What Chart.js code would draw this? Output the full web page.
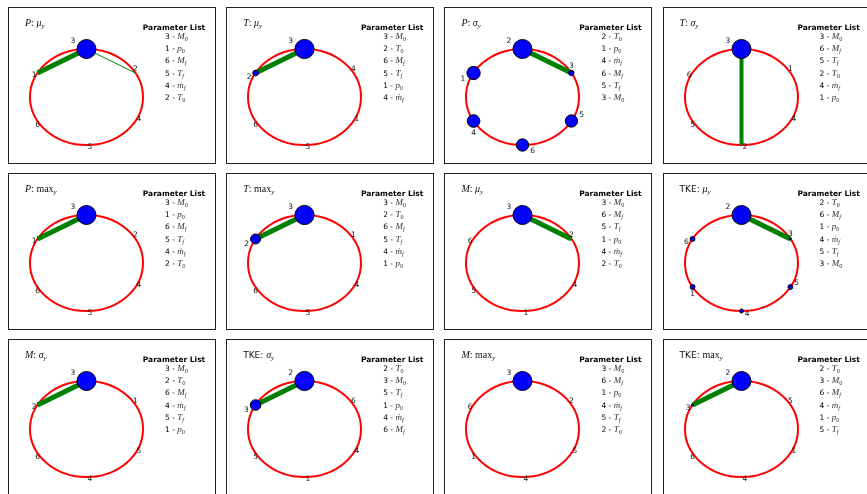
<!DOCTYPE html>
<html>
<head>
<meta charset="utf-8">
<script src="https://cdn.jsdelivr.net/npm/chart.js@4.4.1/dist/chart.umd.min.js"></script>
<style>
  body { margin: 0; background: #fff; width: 867px; height: 494px; overflow: hidden; position: relative; }
  .panel { position: absolute; width: 206px; height: 155px; border: 1px solid #222; background: #fff; }
  .panel canvas { position: absolute; left: 0; top: 0; }
  .ptitle { position: absolute; left: 16px; top: 8px; font: 10px "Liberation Serif", serif; line-height: 14px; white-space: nowrap; color: #111; }
  .sans { font-family: "DejaVu Sans", sans-serif; font-size: 9px; }
  .lhead { position: absolute; left: 115px; width: 100px; top: 13.7px; text-align: center; font: bold 7.5px "DejaVu Sans", sans-serif; line-height: 12px; }
  .litem { position: absolute; left: 156px; font: 7.5px "DejaVu Sans", sans-serif; line-height: 12px; white-space: nowrap; }
  .m { font-family: "Liberation Serif", serif; font-style: italic; font-size: 9px; color: #333; }
  sub { font-size: 70%; vertical-align: -0.3em; line-height: 0; }
  sub.up { font-style: normal; }
</style>
</head>
<body>
<script>
// parameter ids 1..6
const paramSymbols = ['p', 'T', 'M', 'ṁ', 'T', 'M'];
const paramSubs = ['0', '0', '0', 'f', 'f', 'f'];

const panelVars = ['P', 'T', 'P', 'T', 'P', 'T', 'M', 'TKE', 'M', 'TKE', 'M', 'TKE'];
const panelStats = ['mu', 'mu', 'sigma', 'sigma', 'max', 'max', 'mu', 'mu', 'sigma', 'sigma', 'max', 'max'];

// node order around the ring (first one sits on top), same as the parameter list
const nodeOrders = [
  [3, 1, 6, 5, 4, 2],
  [3, 2, 6, 5, 1, 4],
  [2, 1, 4, 6, 5, 3],
  [3, 6, 5, 2, 4, 1],
  [3, 1, 6, 5, 4, 2],
  [3, 2, 6, 5, 4, 1],
  [3, 6, 5, 1, 4, 2],
  [2, 6, 1, 4, 5, 3],
  [3, 2, 6, 4, 5, 1],
  [2, 3, 5, 1, 4, 6],
  [3, 6, 1, 4, 5, 2],
  [2, 3, 6, 4, 1, 5]
];

// node weight per parameter id (1..6)
const nodeWeights = [
  [0, 0, 0.9, 0, 0, 0],
  [0, 0.08, 0.92, 0, 0, 0],
  [0.44, 0.9, 0.07, 0.4, 0.38, 0.38],
  [0, 0, 0.9, 0, 0, 0],
  [0, 0, 0.9, 0, 0, 0],
  [0, 0.25, 0.92, 0, 0, 0],
  [0, 0, 0.9, 0, 0, 0],
  [0.06, 0.9, 0.01, 0.04, 0.06, 0.06],
  [0, 0, 0.9, 0, 0, 0],
  [0, 0.92, 0.28, 0, 0, 0],
  [0, 0, 0.9, 0, 0, 0],
  [0, 0.9, 0.01, 0, 0, 0]
];

// edges: [from, to, weight]
const edgeLists = [
  [[3, 1, 5], [3, 2, 1]],
  [[3, 2, 5]],
  [[2, 3, 5]],
  [[3, 2, 4]],
  [[3, 1, 5]],
  [[3, 2, 5]],
  [[3, 2, 5]],
  [[2, 3, 5]],
  [[3, 2, 5]],
  [[2, 3, 5]],
  [],
  [[2, 3, 5]]
];

const W = 206, H = 155;
const CX = 77.5, CY = 89, RX = 56.5, RY = 48;

function mathSym(id) {
  const s = paramSubs[id - 1];
  const subHtml = s === '0' ? '<sub class="up">0</sub>' : '<sub>' + s + '</sub>';
  return '<span class="m">' + paramSymbols[id - 1] + subHtml + '</span>';
}

function titleHtml(v, st) {
  let head = v === 'TKE' ? '<span class="sans">TKE: </span>' : '<i>' + v + '</i>: ';
  let tail;
  if (st === 'mu') tail = '<i>μ</i><sub><i>y</i></sub>';
  else if (st === 'sigma') tail = '<i>σ</i><sub><i>y</i></sub>';
  else tail = 'max<sub><i>y</i></sub>';
  return head + tail;
}

function angleOf(i) { return Math.PI / 2 + i * Math.PI / 3; }
function posOf(order, id) {
  const a = angleOf(order.indexOf(id));
  return { x: Math.cos(a), y: Math.sin(a) };
}

const ringPlugin = {
  id: 'ring',
  beforeDatasetsDraw(chart) {
    const { x, y } = chart.scales;
    const cx = x.getPixelForValue(0), cy = y.getPixelForValue(0);
    const rx = x.getPixelForValue(1) - cx, ry = cy - y.getPixelForValue(1);
    const ctx = chart.ctx;
    ctx.save();
    ctx.beginPath();
    ctx.ellipse(cx, cy, rx, ry, 0, 0, Math.PI * 2);
    ctx.strokeStyle = '#ff0000';
    ctx.lineWidth = 2;
    ctx.stroke();
    ctx.restore();
  }
};

const labelPlugin = {
  id: 'nodeLabels',
  afterDatasetsDraw(chart) {
    const meta = chart.getDatasetMeta(0);
    const ds = chart.data.datasets[0];
    const ctx = chart.ctx;
    ctx.save();
    ctx.font = '7.5px "DejaVu Sans", sans-serif';
    ctx.fillStyle = '#111';
    ctx.textAlign = 'center';
    ctx.textBaseline = 'middle';
    meta.data.forEach((pt, i) => {
      const r = ds.pointRadius[i];
      const dir = angleOf(i) + Math.PI / 3;
      const mag = 4 + 1.25 * r;
      ctx.fillText(String(ds.ids[i]), pt.x + mag * Math.cos(dir), pt.y - mag * Math.sin(dir));
    });
    ctx.restore();
  }
};

for (let p = 0; p < 12; p++) {
  const col = p % 4, row = Math.floor(p / 4);
  const panel = document.createElement('div');
  panel.className = 'panel';
  panel.style.left = (8 + 218.2 * col) + 'px';
  panel.style.top = (7 + 166 * row) + 'px';
  document.body.appendChild(panel);

  const canvas = document.createElement('canvas');
  canvas.width = W; canvas.height = H;
  canvas.style.width = W + 'px'; canvas.style.height = H + 'px';
  panel.appendChild(canvas);

  const t = document.createElement('div');
  t.className = 'ptitle';
  t.innerHTML = titleHtml(panelVars[p], panelStats[p]);
  panel.appendChild(t);

  const lh = document.createElement('div');
  lh.className = 'lhead';
  lh.textContent = 'Parameter List';
  panel.appendChild(lh);

  const order = nodeOrders[p];
  order.forEach((id, i) => {
    const li = document.createElement('div');
    li.className = 'litem';
    li.style.top = (21.7 + 12.3 * i) + 'px';
    li.innerHTML = id + ' - ' + mathSym(id);
    panel.appendChild(li);
  });

  const nodes = {
    type: 'scatter',
    ids: order,
    data: order.map(id => posOf(order, id)),
    pointRadius: order.map(id => 10 * Math.sqrt(nodeWeights[p][id - 1])),
    pointBackgroundColor: '#0000ff',
    pointBorderColor: '#000000',
    pointBorderWidth: 1,
    showLine: false,
    order: 0
  };
  const edges = edgeLists[p].map(([a, b, w]) => ({
    type: 'line',
    data: [posOf(order, a), posOf(order, b)],
    borderColor: '#008000',
    borderWidth: w,
    borderCapStyle: 'butt',
    pointRadius: 0,
    fill: false,
    order: 1
  }));

  new Chart(canvas, {
    type: 'scatter',
    data: { datasets: [nodes, ...edges] },
    options: {
      responsive: false,
      animation: false,
      events: [],
      layout: { padding: 0, autoPadding: false },
      plugins: { legend: { display: false }, tooltip: { enabled: false } },
      scales: {
        x: { type: 'linear', display: false, min: -CX / RX, max: (W - CX) / RX },
        y: { type: 'linear', display: false, min: -(H - CY) / RY, max: CY / RY }
      }
    },
    plugins: [ringPlugin, labelPlugin]
  });
}
</script>
</body>
</html>
